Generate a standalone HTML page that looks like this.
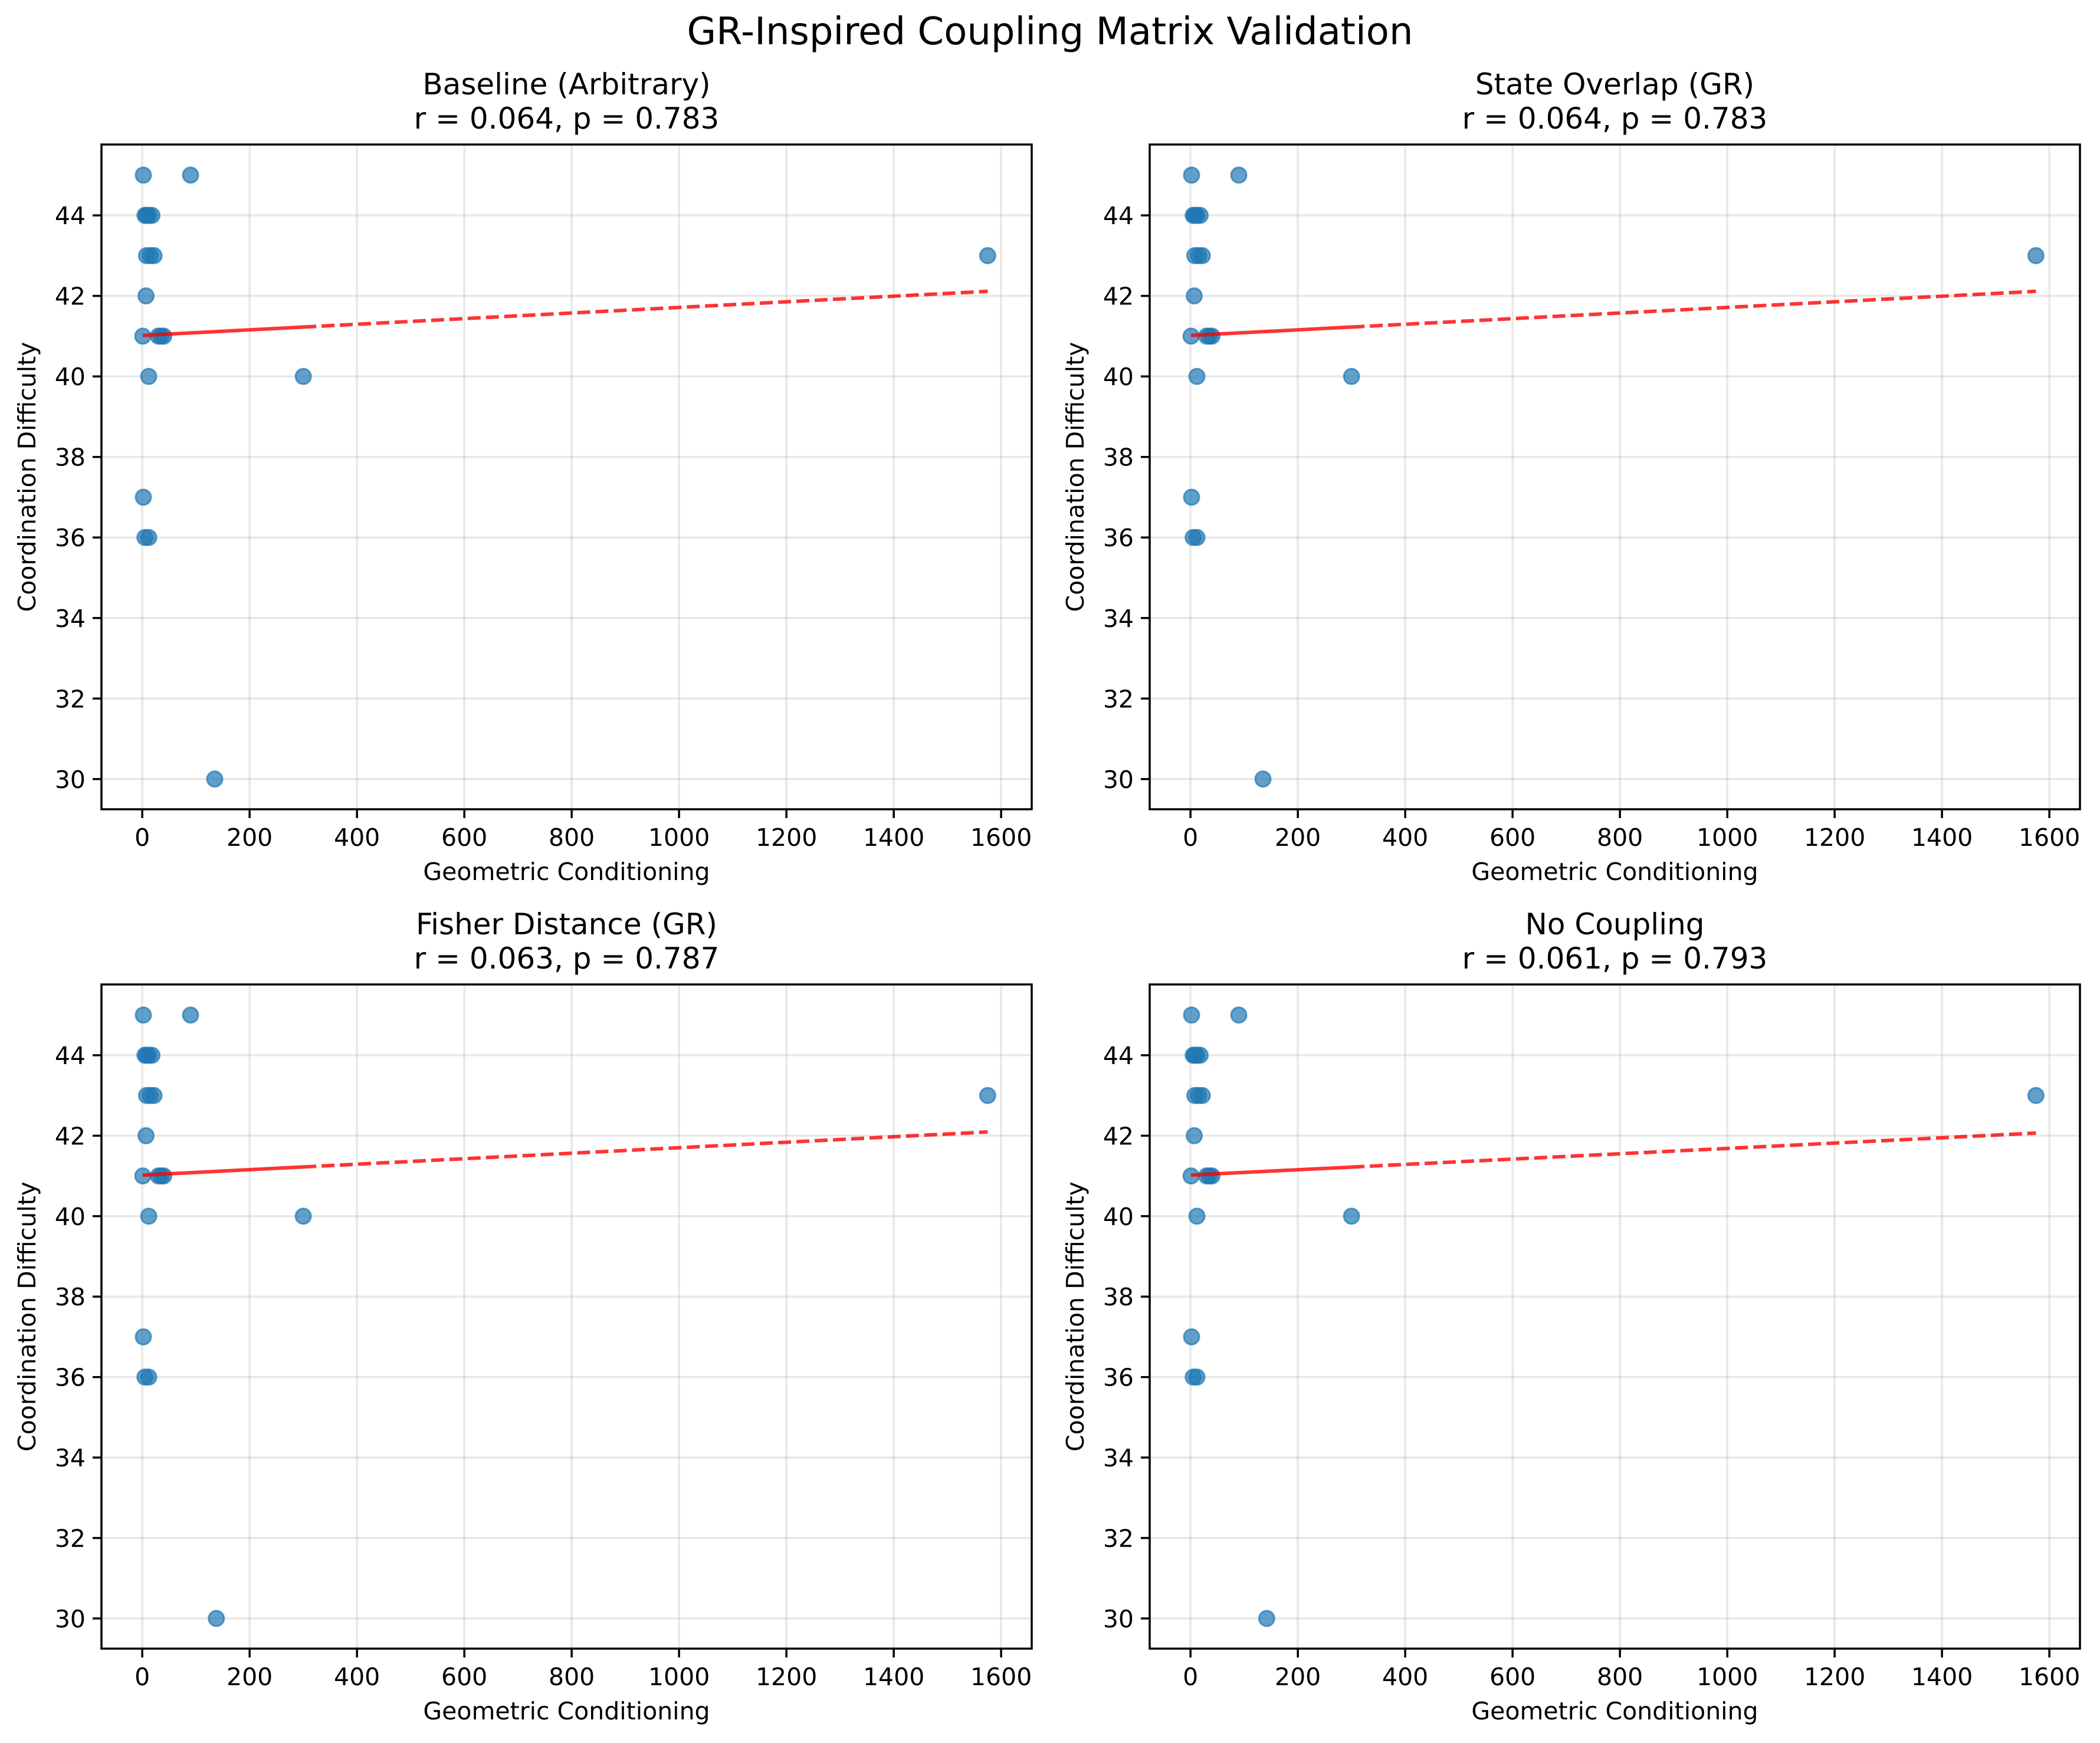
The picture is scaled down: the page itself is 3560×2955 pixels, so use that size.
<!DOCTYPE html>
<html><head><meta charset="utf-8"><style>
html,body{margin:0;padding:0;background:#fff;}
svg{display:block;font-family:"DejaVu Sans","Liberation Sans",sans-serif;}
</style></head><body>
<svg id="fig" width="3560" height="2955" viewBox="0 0 3560 2955" xmlns="http://www.w3.org/2000/svg">
<rect width="3560" height="2955" fill="#fff"/>
<text x="1780" y="75" font-size="64" text-anchor="middle">GR-Inspired Coupling Matrix Validation</text>
</svg>
<script>
const panelTitles = ["Baseline (Arbitrary)", "State Overlap (GR)", "Fisher Distance (GR)", "No Coupling"];
const panelStats = ["r = 0.064, p = 0.783", "r = 0.064, p = 0.783", "r = 0.063, p = 0.787", "r = 0.061, p = 0.793"];
const xBase = [2, 90, 5, 8, 12, 18, 8, 15, 22, 7, 1, 30, 35, 40, 12, 2, 5, 12, 300, 1575];
const yValues = [45, 45, 44, 44, 44, 44, 43, 43, 43, 42, 41, 41, 41, 41, 40, 37, 36, 36, 40, 43];
const outlierX = [135, 135, 138, 142];
const xTicks = [0, 200, 400, 600, 800, 1000, 1200, 1400, 1600];
const yTicks = [30, 32, 34, 36, 38, 40, 42, 44];
const xDomain = [-76, 1657];
const yDomain = [29.25, 45.76];

const NS = "http://www.w3.org/2000/svg";
const svg = document.getElementById('fig');
function mk(tag, attrs, parent){ const e=document.createElementNS(NS,tag); for(const k in attrs) e.setAttribute(k,attrs[k]); (parent||svg).appendChild(e); return e; }

const panels = [
  {l:172,r:1749,t:245,b:1372},
  {l:1949,r:3526,t:245,b:1372},
  {l:172,r:1749,t:1669,b:2795},
  {l:1949,r:3526,t:1669,b:2795}
];

panels.forEach((p,i)=>{
  const g = mk('g',{});
  
  
  const sx = v => p.l + (v - xDomain[0])/(xDomain[1]-xDomain[0])*(p.r-p.l);
  const sy = v => p.b - (v - yDomain[0])/(yDomain[1]-yDomain[0])*(p.b-p.t);
  const cx = (p.l+p.r)/2;
  const t1 = mk('text',{x:cx,y:p.t-85,'font-size':50,'text-anchor':'middle'},g); t1.textContent=panelTitles[i];
  
  
  const t2 = mk('text',{x:cx,y:p.t-27,'font-size':50,'text-anchor':'middle'},g); t2.textContent=panelStats[i];
  
  
  xTicks.forEach(v=>{
    const x=sx(v);
    mk('line',{x1:x,x2:x,y1:p.t,y2:p.b,stroke:'#b0b0b0','stroke-opacity':0.3,'stroke-width':3.5},g);
    mk('line',{x1:x,x2:x,y1:p.b,y2:p.b+15,stroke:'#000','stroke-width':3.5},g);
    const tx=mk('text',{x:x,y:p.b+62,'font-size':41,'text-anchor':'middle'},g); tx.textContent=v;
    
    
  });
  yTicks.forEach(v=>{
    const y=sy(v);
    mk('line',{x1:p.l,x2:p.r,y1:y,y2:y,stroke:'#b0b0b0','stroke-opacity':0.3,'stroke-width':3.5},g);
    mk('line',{x1:p.l-15,x2:p.l,y1:y,y2:y,stroke:'#000','stroke-width':3.5},g);
    const ty=mk('text',{x:p.l-27,y:y+15,'font-size':41,'text-anchor':'end'},g); ty.textContent=v;
    
    
  });
  const xs = xBase.slice(); xs.push(outlierX[i]);
  const ys = yValues.slice(); ys.push(30);
  xs.forEach((xv,k)=>{
    const c=mk('circle',{cx:sx(xv),cy:sy(ys[k]),r:13,fill:'#1f77b4','fill-opacity':0.7,stroke:'#1f77b4','stroke-opacity':0.7,'stroke-width':3},g);
    
    
  });
  const n=xs.length, mx=xs.reduce((a,b)=>a+b)/n, my=ys.reduce((a,b)=>a+b)/n;
  let sxy=0,sxx=0; xs.forEach((xv,k)=>{sxy+=(xv-mx)*(ys[k]-my);sxx+=(xv-mx)*(xv-mx);});
  const slope=sxy/sxx, icpt=my-slope*mx;
  const xmin=Math.min(...xs), xmax=Math.max(...xs);
  const f=v=>icpt+slope*v;
  const l1=mk('line',{x1:sx(xmin),y1:sy(f(xmin)),x2:sx(300),y2:sy(f(300)),stroke:'red','stroke-opacity':0.8,'stroke-width':6},g);
  
  
  const l2=mk('line',{x1:sx(300),y1:sy(f(300)),x2:sx(xmax),y2:sy(f(xmax)),stroke:'red','stroke-opacity':0.8,'stroke-width':6,'stroke-dasharray':'22 9'},g);
  
  
  mk('rect',{x:p.l,y:p.t,width:p.r-p.l,height:p.b-p.t,fill:'none',stroke:'#000','stroke-width':3.5},g);
  const xl=mk('text',{x:cx,y:p.b+120,'font-size':41,'text-anchor':'middle'},g); xl.textContent='Geometric Conditioning';
  
  
  const ly=(p.t+p.b)/2, lx=p.l-112;
  const yl=mk('text',{x:lx,y:ly,'font-size':41,'text-anchor':'middle',transform:`rotate(-90 ${lx} ${ly})`},g); yl.textContent='Coordination Difficulty';
  
  
});
</script>
</body></html>
